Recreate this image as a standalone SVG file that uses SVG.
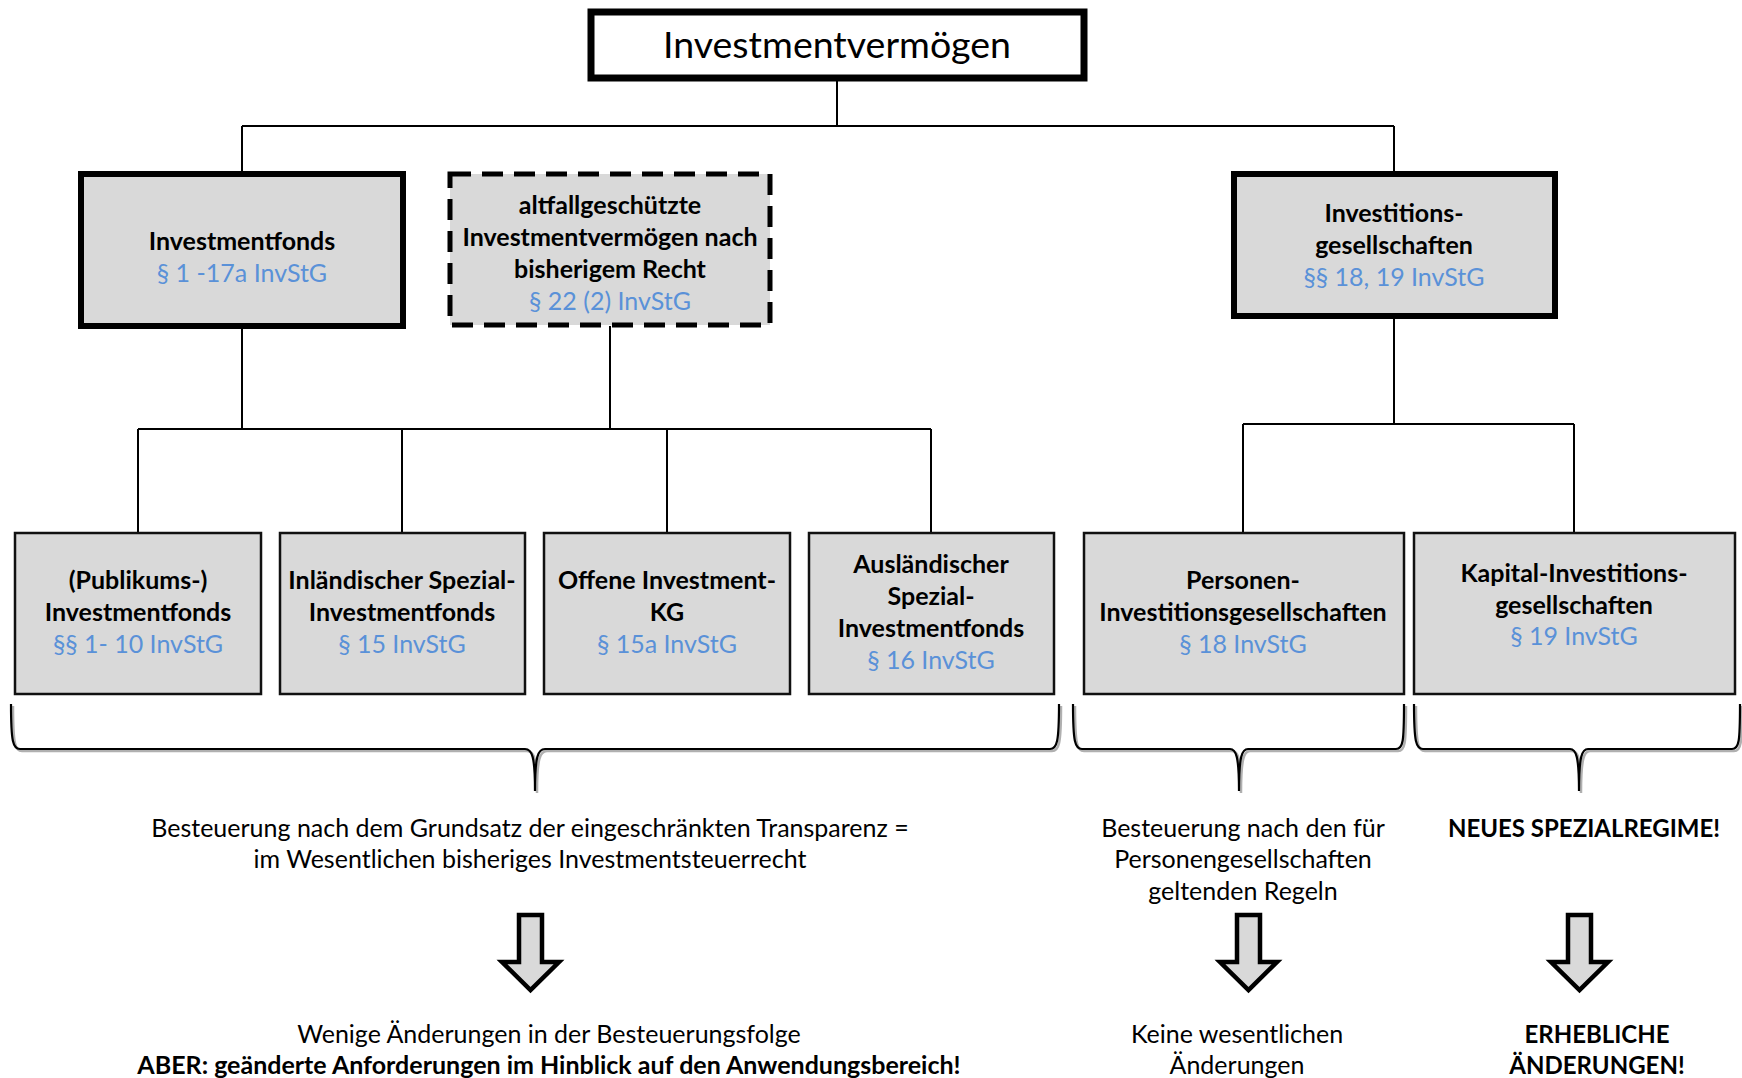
<svg xmlns="http://www.w3.org/2000/svg" width="1742" height="1078" viewBox="0 0 1742 1078">
<style>
text{font-family:Lato,"Open Sans","Liberation Sans",sans-serif;text-anchor:middle;fill:#000}
.b{font-weight:bold;font-size:25px}
.c{font-size:24px}
.r{font-size:25px}
.ref{font-size:25px;fill:#5a91d8}
.box{fill:#d9d9d9;stroke:#111;stroke-width:2.5}
.thick{fill:#d9d9d9;stroke:#000;stroke-width:6}
.dash{fill:#d9d9d9;stroke:#000;stroke-width:5;stroke-dasharray:21 11}
.ln{fill:none;stroke:#000;stroke-width:2}
.br{fill:none;stroke:#000;stroke-width:2.2}
.brs{fill:none;stroke:#b0b0b0;stroke-width:2.5}
.arr{fill:#d9d9d9;stroke:#000;stroke-width:4.5;stroke-linejoin:miter}
</style>
<rect width="1742" height="1078" fill="#fff"/>
<g id="connectors">
<path class="ln" d="M837 80 V126 M242 126 H1394 M242 126 V173 M1394 126 V173"/>
<path class="ln" d="M242 326 V429 M610 326 V429 M138 429 H931 M138 429 V532 M402 429 V532 M667 429 V532 M931 429 V532"/>
<path class="ln" d="M1394 316 V424 M1243 424 H1574 M1243 424 V532 M1574 424 V532"/>
</g>
<g id="root">
<rect x="591" y="12" width="493" height="66" fill="#fff" stroke="#000" stroke-width="7"/>
<text x="837" y="58" style="font-size:37.5px">Investmentvermögen</text>
</g>
<g id="investmentfonds">
<rect class="thick" x="81" y="174" width="322" height="152"/>
<text class="b" x="242" y="250">Investmentfonds</text>
<text class="ref" x="242" y="282">§ 1 -17a InvStG</text>
</g>
<g id="altfall">
<rect class="dash" x="450" y="174" width="320" height="151"/>
<text class="b" x="610" y="214">altfallgeschützte</text>
<text class="b" x="610" y="246">Investmentvermögen nach</text>
<text class="b" x="610" y="278">bisherigem Recht</text>
<text class="ref" x="610" y="310">§ 22 (2) InvStG</text>
</g>
<g id="investitionsgesellschaften">
<rect class="thick" x="1234" y="174" width="321" height="142"/>
<text class="b" x="1394" y="222">Investitions-</text>
<text class="b" x="1394" y="254">gesellschaften</text>
<text class="ref" x="1394" y="286">§§ 18, 19 InvStG</text>
</g>
<g id="publikums">
<rect class="box" x="15" y="533" width="246" height="161"/>
<text class="b" x="138" y="589">(Publikums-)</text>
<text class="b" x="138" y="621">Investmentfonds</text>
<text class="ref" x="138" y="653">§§ 1- 10 InvStG</text>
</g>
<g id="inlaendisch">
<rect class="box" x="280" y="533" width="245" height="161"/>
<text class="b" x="402" y="589">Inländischer Spezial-</text>
<text class="b" x="402" y="621">Investmentfonds</text>
<text class="ref" x="402" y="653">§ 15 InvStG</text>
</g>
<g id="offene">
<rect class="box" x="544" y="533" width="246" height="161"/>
<text class="b" x="667" y="589">Offene Investment-</text>
<text class="b" x="667" y="621">KG</text>
<text class="ref" x="667" y="653">§ 15a InvStG</text>
</g>
<g id="auslaendisch">
<rect class="box" x="809" y="533" width="245" height="161"/>
<text class="b" x="931" y="573">Ausländischer</text>
<text class="b" x="931" y="605">Spezial-</text>
<text class="b" x="931" y="637">Investmentfonds</text>
<text class="ref" x="931" y="669">§ 16 InvStG</text>
</g>
<g id="personen">
<rect class="box" x="1084" y="533" width="320" height="161"/>
<text class="b" x="1243" y="589">Personen-</text>
<text class="b" x="1243" y="621">Investitionsgesellschaften</text>
<text class="ref" x="1243" y="653">§ 18 InvStG</text>
</g>
<g id="kapital">
<rect class="box" x="1414" y="533" width="321" height="161"/>
<text class="b" x="1574" y="582">Kapital-Investitions-</text>
<text class="b" x="1574" y="614">gesellschaften</text>
<text class="ref" x="1574" y="645">§ 19 InvStG</text>
</g>
<g id="braces">
<path class="brs" d="M13 706 C13 744 15 751 22 751 L527 751 C534 751 537 758 537 793 C537 758 540 751 547 751 L1052 751 C1059 751 1061 744 1061 706"/>
<path class="br" d="M11 704 C11 742 13 749 20 749 L525 749 C532 749 535 756 535 791 C535 756 538 749 545 749 L1050 749 C1057 749 1059 742 1059 704"/>
<path class="brs" d="M1075 706 C1075 744 1077 751 1084 751 L1232 751 C1238 751 1241 758 1241 793 C1241 758 1244 751 1250 751 L1398 751 C1405 751 1406 744 1406 706"/>
<path class="br" d="M1073 704 C1073 742 1075 749 1082 749 L1230 749 C1236 749 1239 756 1239 791 C1239 756 1242 749 1248 749 L1396 749 C1403 749 1404 742 1404 704"/>
<path class="brs" d="M1416 706 C1416 744 1418 751 1425 751 L1572 751 C1578 751 1581 758 1581 793 C1581 758 1584 751 1590 751 L1734 751 C1741 751 1742 744 1742 706"/>
<path class="br" d="M1414 704 C1414 742 1416 749 1423 749 L1570 749 C1576 749 1579 756 1579 791 C1579 756 1582 749 1588 749 L1732 749 C1739 749 1740 742 1740 704"/>
</g>
<g id="text-left">
<text class="r" x="530" y="837">Besteuerung nach dem Grundsatz der eingeschränkten Transparenz =</text>
<text class="r" x="530" y="868">im Wesentlichen bisheriges Investmentsteuerrecht</text>
</g>
<g id="text-mid">
<text class="r" x="1243" y="837">Besteuerung nach den für</text>
<text class="r" x="1243" y="868">Personengesellschaften</text>
<text class="r" x="1243" y="900">geltenden Regeln</text>
</g>
<g id="text-right">
<text class="b c" x="1584" y="837">NEUES SPEZIALREGIME!</text>
</g>
<g id="arrows">
<path class="arr" d="M519 915 H542 V962 H559 L530.5 990 L502 962 H519 Z"/>
<path class="arr" d="M1237 915 H1260 V962 H1277 L1248.5 990 L1220 962 H1237 Z"/>
<path class="arr" d="M1568 915 H1591 V962 H1608 L1579.5 990 L1551 962 H1568 Z"/>
</g>
<g id="results">
<text class="r" x="549" y="1043">Wenige Änderungen in der Besteuerungsfolge</text>
<text class="b" x="549" y="1074">ABER: geänderte Anforderungen im Hinblick auf den Anwendungsbereich!</text>
<text class="r" x="1237" y="1043">Keine wesentlichen</text>
<text class="r" x="1237" y="1074">Änderungen</text>
<text class="b c" x="1597" y="1043">ERHEBLICHE</text>
<text class="b c" x="1597" y="1074">ÄNDERUNGEN!</text>
</g>
</svg>
